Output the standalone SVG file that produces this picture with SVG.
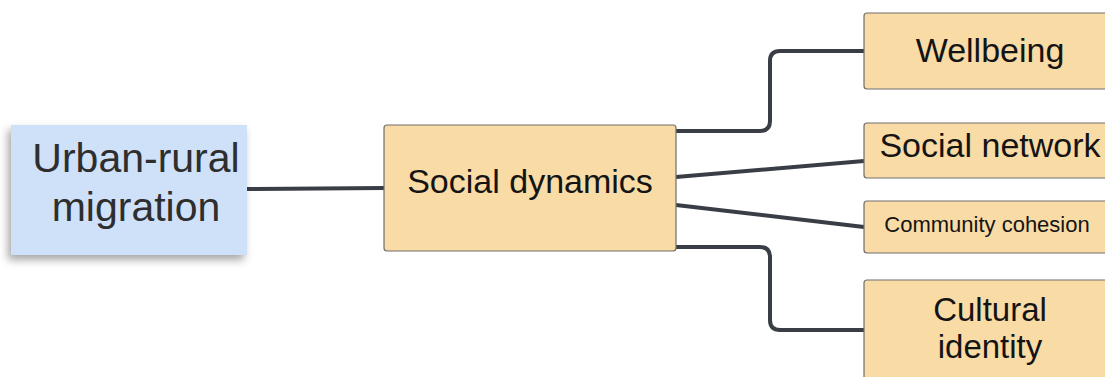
<svg xmlns="http://www.w3.org/2000/svg" width="1105" height="377" viewBox="0 0 1105 377">
<style>
.box{fill:#f9dba6;stroke:#6e6e6e;stroke-width:1.2}
.t{font-family:"Liberation Sans",Arial,sans-serif;fill:#141414;text-anchor:middle}
.u{fill:#2e2e2e}
.c{fill:none;stroke:#393e46;stroke-width:4;stroke-linecap:butt;stroke-linejoin:round}
</style>
<defs>
<filter id="sh" x="-20%" y="-20%" width="140%" height="150%">
<feDropShadow dx="-3" dy="5" stdDeviation="4" flood-color="#000" flood-opacity="0.35"/>
</filter>
</defs>
<rect width="1105" height="377" fill="#ffffff"/>
<g id="connectors">
<path class="c" d="M247 189 L384 188"/>
<path class="c" d="M676 131 L760 131 Q770 131 770 121 L770 61 Q770 51 780 51 L864 51"/>
<path class="c" d="M676 177 L864 161"/>
<path class="c" d="M676 205 L864 227"/>
<path class="c" d="M676 247 L760 247 Q770 247 770 257 L770 320 Q770 330 780 330 L864 330"/>
</g>
<g id="urban-rural">
<rect x="11" y="125" width="236" height="130" fill="#cee1f9" filter="url(#sh)"/>
<text class="t u" x="136" y="172" font-size="41">Urban-rural</text>
<text class="t u" x="136" y="221" font-size="41">migration</text>
</g>
<g id="social-dynamics">
<rect class="box" x="384" y="125" width="292" height="126" rx="3"/>
<text class="t" x="530" y="193" font-size="34">Social dynamics</text>
</g>
<g id="wellbeing">
<rect class="box" x="864" y="13" width="252" height="76" rx="3"/>
<text class="t" x="990" y="62" font-size="34">Wellbeing</text>
</g>
<g id="social-network">
<rect class="box" x="864" y="123" width="252" height="55" rx="3"/>
<text class="t" x="990" y="157" font-size="34">Social network</text>
</g>
<g id="community-cohesion">
<rect class="box" x="864" y="201" width="252" height="52" rx="3"/>
<text class="t" x="987" y="232" font-size="22">Community cohesion</text>
</g>
<g id="cultural-identity">
<rect class="box" x="864" y="280" width="252" height="110" rx="3"/>
<text class="t" x="990" y="321" font-size="33">Cultural</text>
<text class="t" x="990" y="358" font-size="33">identity</text>
</g>
</svg>
